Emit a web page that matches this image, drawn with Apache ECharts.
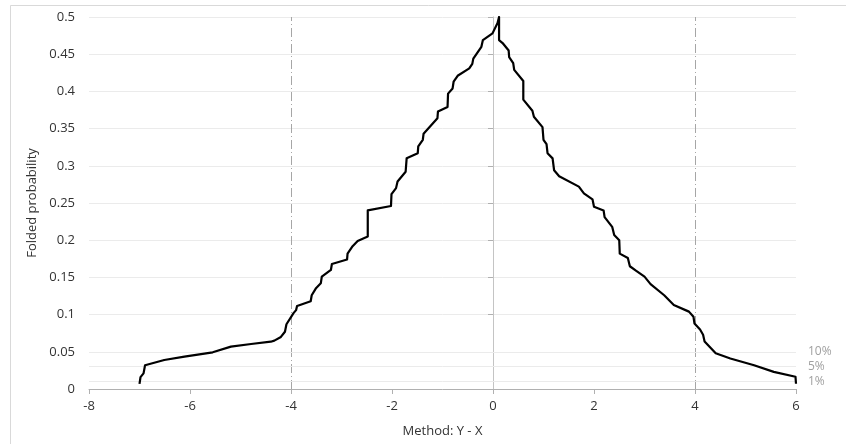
<!DOCTYPE html>
<html>
<head>
<meta charset="utf-8">
<script src="https://cdn.jsdelivr.net/npm/echarts@6/dist/echarts.min.js"></script>
<style>html,body{margin:0;padding:0;background:#fff}#c{width:846px;height:444px}</style>
</head>
<body>
<div id="c"></div>
<script>
// Folded empirical cumulative distribution (mountain plot): difference Y - X
var diffX = [-7.00,-6.98,-6.92,-6.89,-6.51,-6.11,-5.55,-5.19,-4.79,-4.40,-4.33,-4.20,-4.12,-4.09,-4.09,-3.95,-3.90,-3.88,-3.61,-3.59,-3.51,-3.41,-3.39,-3.21,-3.19,-2.89,-2.88,-2.78,-2.68,-2.48,-2.48,-2.02,-2.01,-1.92,-1.89,-1.73,-1.71,-1.49,-1.48,-1.39,-1.375,-1.10,-1.09,-0.90,-0.89,-0.80,-0.78,-0.70,-0.47,-0.41,-0.39,-0.23,-0.20,-0.01,0.09,0.12,0.12,0.19,0.31,0.32,0.40,0.42,0.60,0.60,0.78,0.81,0.98,1.00,1.06,1.08,1.18,1.21,1.31,1.70,1.80,1.97,2.00,2.19,2.21,2.36,2.40,2.50,2.51,2.67,2.71,2.83,3.00,3.12,3.39,3.58,3.88,3.97,3.99,4.10,4.16,4.19,4.41,4.70,5.17,5.56,5.99,6.00];
var foldedP = [0.007,0.016,0.021,0.032,0.039,0.0434,0.0493,0.0569,0.0605,0.0636,0.065,0.070,0.077,0.0793,0.087,0.102,0.106,0.1116,0.118,0.126,0.135,0.142,0.151,0.160,0.168,0.174,0.182,0.192,0.199,0.205,0.240,0.246,0.262,0.270,0.279,0.292,0.310,0.317,0.326,0.335,0.343,0.364,0.373,0.379,0.397,0.404,0.413,0.421,0.431,0.437,0.444,0.460,0.469,0.478,0.492,0.500,0.469,0.465,0.455,0.446,0.438,0.429,0.414,0.389,0.374,0.366,0.352,0.335,0.329,0.317,0.310,0.294,0.286,0.272,0.263,0.255,0.245,0.240,0.231,0.218,0.207,0.200,0.182,0.176,0.165,0.159,0.151,0.141,0.126,0.113,0.104,0.097,0.088,0.080,0.073,0.064,0.048,0.041,0.032,0.023,0.0165,0.007];
var refX = [-4, 0, 4];
var refLevels = [0.05, 0.025, 0.005];
var refLabels = ['10%', '5%', '1%'];
var xTicks = {min: -8, max: 6, interval: 2};
var yTicks = {min: 0, max: 0.5, interval: 0.05};

var pts = diffX.map(function (x, i) { return [x, foldedP[i]]; });
var FONT = "'Open Sans', 'Noto Sans', sans-serif";

var mlData = [];
refX.forEach(function (x) {
  mlData.push({
    xAxis: x,
    lineStyle: x === 0 ? {color: '#c4c4c4', width: 1, type: 'solid'}
                       : {color: '#a6a6a6', width: 1, type: [9, 3, 1, 3]},
    label: {show: false}
  });
});
refLevels.forEach(function (y, i) {
  mlData.push({
    yAxis: y,
    lineStyle: {color: '#ebebeb', width: 1, type: 'solid'},
    label: {show: true, position: 'end', formatter: refLabels[i], color: '#a0a0a0',
            fontSize: 12, fontFamily: FONT, distance: 12}
  });
});

var chart = echarts.init(document.getElementById('c'), null, {renderer: 'canvas'});
chart.setOption({
  animation: false,
  backgroundColor: '#ffffff',
  graphic: [{
    type: 'rect', silent: true,
    shape: {x: 10.5, y: 5.5, width: 900, height: 500},
    style: {fill: 'none', stroke: '#d9d9d9', lineWidth: 1}
  }],
  grid: {left: 89, right: 50, top: 17, bottom: 55, containLabel: false},
  xAxis: {
    type: 'value', min: xTicks.min, max: xTicks.max, interval: xTicks.interval,
    name: 'Method: Y - X', nameLocation: 'middle', nameGap: 36,
    nameTextStyle: {color: '#333333', fontSize: 13, fontFamily: FONT},
    axisLine: {show: true, onZero: false, lineStyle: {color: '#b0b0b0', width: 1}},
    axisTick: {show: true, length: 5, lineStyle: {color: '#b0b0b0'}},
    axisLabel: {color: '#333333', fontSize: 13, fontFamily: FONT, margin: 11},
    splitLine: {show: false}
  },
  yAxis: {
    type: 'value', min: yTicks.min, max: yTicks.max, interval: yTicks.interval,
    name: 'Folded probability', nameLocation: 'middle', nameGap: 43, nameRotate: 90,
    nameTextStyle: {color: '#333333', fontSize: 13, fontFamily: FONT},
    axisLine: {show: true, lineStyle: {color: '#b0b0b0', width: 1}},
    axisTick: {show: true, length: 5, lineStyle: {color: '#b0b0b0'}},
    axisLabel: {color: '#333333', fontSize: 13, fontFamily: FONT, margin: 14},
    splitLine: {show: true, lineStyle: {color: '#ebebeb', width: 1}}
  },
  series: [{
    type: 'line',
    data: pts,
    showSymbol: false,
    symbol: 'none',
    lineStyle: {color: '#000000', width: 2.2, join: 'round'},
    z: 5,
    markLine: {
      silent: true,
      symbol: ['none', 'none'],
      animation: false,
      data: mlData,
      z: 1
    }
  }]
});
</script>
</body>
</html>
